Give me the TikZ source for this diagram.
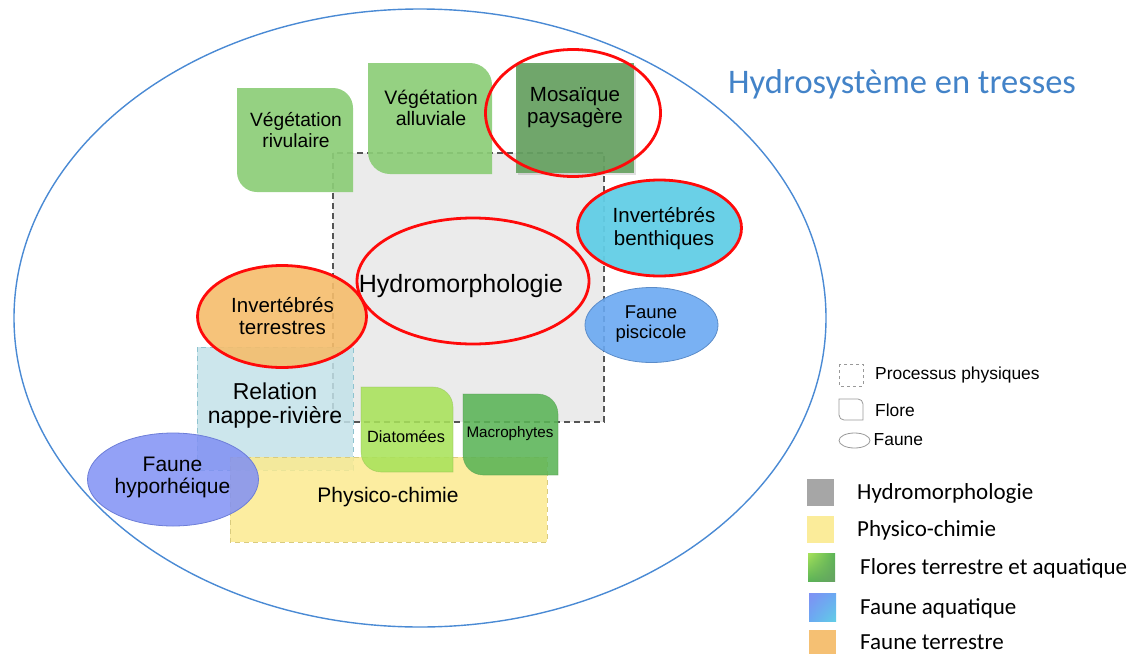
\documentclass[tikz,border=0pt]{standalone}
\usepackage{fontspec}
\setmainfont{Liberation Sans}
\newfontfamily\calib{Carlito}
\usetikzlibrary{shapes.geometric,shadings}
\definecolor{hsblue}{HTML}{4A8AD4}
\definecolor{titleblue}{HTML}{4383C8}
\definecolor{vegG}{HTML}{8CCD77}
\definecolor{mosG}{HTML}{67A262}
\definecolor{cyanB}{HTML}{62CEE6}
\definecolor{piscB}{HTML}{6AA9F2}
\definecolor{piscD}{HTML}{5B8CC9}
\definecolor{orangeT}{HTML}{F5BD6C}
\definecolor{relB}{HTML}{C3E2E9}
\definecolor{relD}{HTML}{8FC3CF}
\definecolor{yellowP}{HTML}{FBEA8F}
\definecolor{yellowD}{HTML}{D9CB7E}
\definecolor{diatG}{HTML}{A8E25A}
\definecolor{macroG}{HTML}{5AB456}
\definecolor{hypoB}{HTML}{8090F4}
\definecolor{hypoD}{HTML}{6D7ED8}
\definecolor{grayR}{HTML}{EBEBEB}
\definecolor{grayD}{HTML}{555555}
\definecolor{redR}{HTML}{FF0A0A}
\newcommand\florebox[6]{%
  \path[#6] (#1,#2) -- ({#3-#5},#2) arc[start angle=-90,end angle=0,radius=#5]
    -- (#3,#4) -- ({#1+#5},#4) arc[start angle=90,end angle=180,radius=#5] -- cycle;}
\tikzset{
  lbl/.style={align=center, inner sep=0pt, text=black},
  ring/.style={ellipse, draw=redR, line width=2.8pt, inner sep=0pt},
  fauna/.style={ellipse, inner sep=0pt, fill opacity=0.9},
  legtxt/.style={anchor=west, inner sep=0pt, font=\fontsize{17.4}{19}\selectfont},
  legtxtb/.style={anchor=west, inner sep=0pt, font=\calib\fontsize{23}{24}\selectfont},
}
\begin{document}
\begin{tikzpicture}[x=1pt,y=-1pt]
\useasboundingbox (0,0) rectangle (1134,653);
% outer ellipse
\node[ellipse, draw=hsblue, line width=1.4pt, minimum width=812pt, minimum height=618pt, inner sep=0pt] (hydro) at (420,318) {};
\node[anchor=base west, inner sep=0pt, text=titleblue, font=\calib\fontsize{34.5}{36}\selectfont] (title) at (728,93) {Hydrosystème en tresses};
% physical process box
\path[fill=grayR, draw=grayD, line width=1.1pt, dash pattern=on 6pt off 4pt] (333,153) rectangle (604,422);
% flora
\florebox{237}{88}{353}{192}{20}{fill=vegG, fill opacity=0.92}
\florebox{368}{63}{492}{174}{22}{fill=vegG, fill opacity=0.92}
\path[fill=black, fill opacity=0.12] (518,65) rectangle (636,175);
\path[fill=mosG, fill opacity=0.93] (516,63) rectangle (634,173);
\node[ring, minimum width=175pt, minimum height=127pt] (mosring) at (573,113) {};
% hydromorphologie ring
\node[ring, minimum width=232pt, minimum height=126pt] (hmring) at (473,281) {};
% fauna
\node[ring, fill=cyanB, fill opacity=0.95, minimum width=164pt, minimum height=96pt] (benth) at (659.5,228) {};
\node[fauna, fill=piscB, draw=piscD, line width=0.8pt, minimum width=133pt, minimum height=75pt] (pisc) at (651.5,325) {};
% relation nappe-riviere
\path[fill=relB, fill opacity=0.85, draw=relD, line width=1pt, dash pattern=on 5pt off 4pt] (197,347) rectangle (353,470);
% physico-chimie
\path[fill=yellowP, fill opacity=0.85, draw=yellowD, line width=1pt, dash pattern=on 5pt off 4pt] (230,457) rectangle (547,542);
% invertebres terrestres
\node[ring, fill=orangeT, fill opacity=0.9, minimum width=169pt, minimum height=102pt] (terr) at (282,316.5) {};
% diatomees, macrophytes
\florebox{361}{387}{453}{472}{20}{fill=diatG, fill opacity=0.88, draw=diatG!80!black, draw opacity=0.4, line width=0.6pt}
\florebox{463}{394}{558}{475}{20}{fill=macroG, fill opacity=0.88, draw=macroG!80!black, draw opacity=0.4, line width=0.6pt}
% faune hyporheique
\node[fauna, fill=hypoB, fill opacity=0.85, draw=hypoD, line width=0.8pt, minimum width=171pt, minimum height=93pt] (hypo) at (173,479.5) {};
% labels
\node[lbl, font=\fontsize{19.2}{21}\selectfont] (trivu) at (296,130) {Végétation\\rivulaire};
\node[lbl, font=\fontsize{19.5}{21}\selectfont] (tallu) at (431,107.5) {Végétation\\alluviale};
\node[lbl, font=\fontsize{20.5}{21.5}\selectfont] (tmos) at (575,107.5) {Mosaïque\\paysagère};
\node[lbl, font=\fontsize{25}{27}\selectfont] (thm) at (461,286) {Hydromorphologie};
\node[lbl, font=\fontsize{20.5}{23}\selectfont] (tbenth) at (664,228.5) {Invertébrés\\benthiques};
\node[lbl, font=\fontsize{18.5}{19.5}\selectfont] (tpisc) at (651,324) {Faune\\piscicole};
\node[lbl, font=\fontsize{20.5}{22}\selectfont] (tterr) at (282.5,316.5) {Invertébrés\\terrestres};
\node[lbl, font=\fontsize{23}{24}\selectfont] (trel) at (275,406) {Relation\\nappe-rivière};
\node[lbl, font=\fontsize{16.3}{18}\selectfont] (tdiat) at (406,437) {Diatomées};
\node[lbl, font=\fontsize{15.2}{17}\selectfont] (tmacro) at (510,434) {Macrophytes};
\node[lbl, font=\fontsize{21}{23}\selectfont] (tphys) at (388,497) {Physico-chimie};
\node[lbl, font=\fontsize{21}{22}\selectfont] (thypo) at (172.5,477.5) {Faune\\hyporhéique};
% legend (shapes)
\path[draw=gray!80, line width=0.8pt, dash pattern=on 3pt off 3pt] (839,364) rectangle (863,386);
\node[legtxt] (lproc) at (875,375) {Processus physiques};
\florebox{839}{399}{863}{420}{5}{draw=gray!80, line width=0.8pt}
\node[legtxt] (lflore) at (875,410) {Flore};
\node[ellipse, draw=gray!80, line width=0.8pt, minimum width=31pt, minimum height=15pt, inner sep=0pt] (lfaune) at (854.5,440.5) {};
\node[legtxt] (tfaune) at (873.5,440) {Faune};
% legend (colours)
\path[fill=gray!70] (807,479) rectangle (834,506);
\node[legtxtb] (lhm) at (857,493) {Hydromorphologie};
\path[fill=yellowP!90!white] (807,516) rectangle (834,543);
\node[legtxtb] (lpc) at (857,530) {Physico-chimie};
\shade[upper left=diatG, upper right=macroG, lower left=macroG, lower right=mosG] (808,553) rectangle (835,581);
\node[legtxtb] (lfl) at (860,568) {Flores terrestre et aquatique};
\shade[upper left=hypoB, upper right=piscB, lower left=piscB, lower right=cyanB] (809,593) rectangle (836,621);
\node[legtxtb] (lfa) at (860,608) {Faune aquatique};
\path[fill=orangeT!95!white] (809,630) rectangle (836,656);
\node[legtxtb] (lft) at (860,642) {Faune terrestre};
\end{tikzpicture}
\end{document}
